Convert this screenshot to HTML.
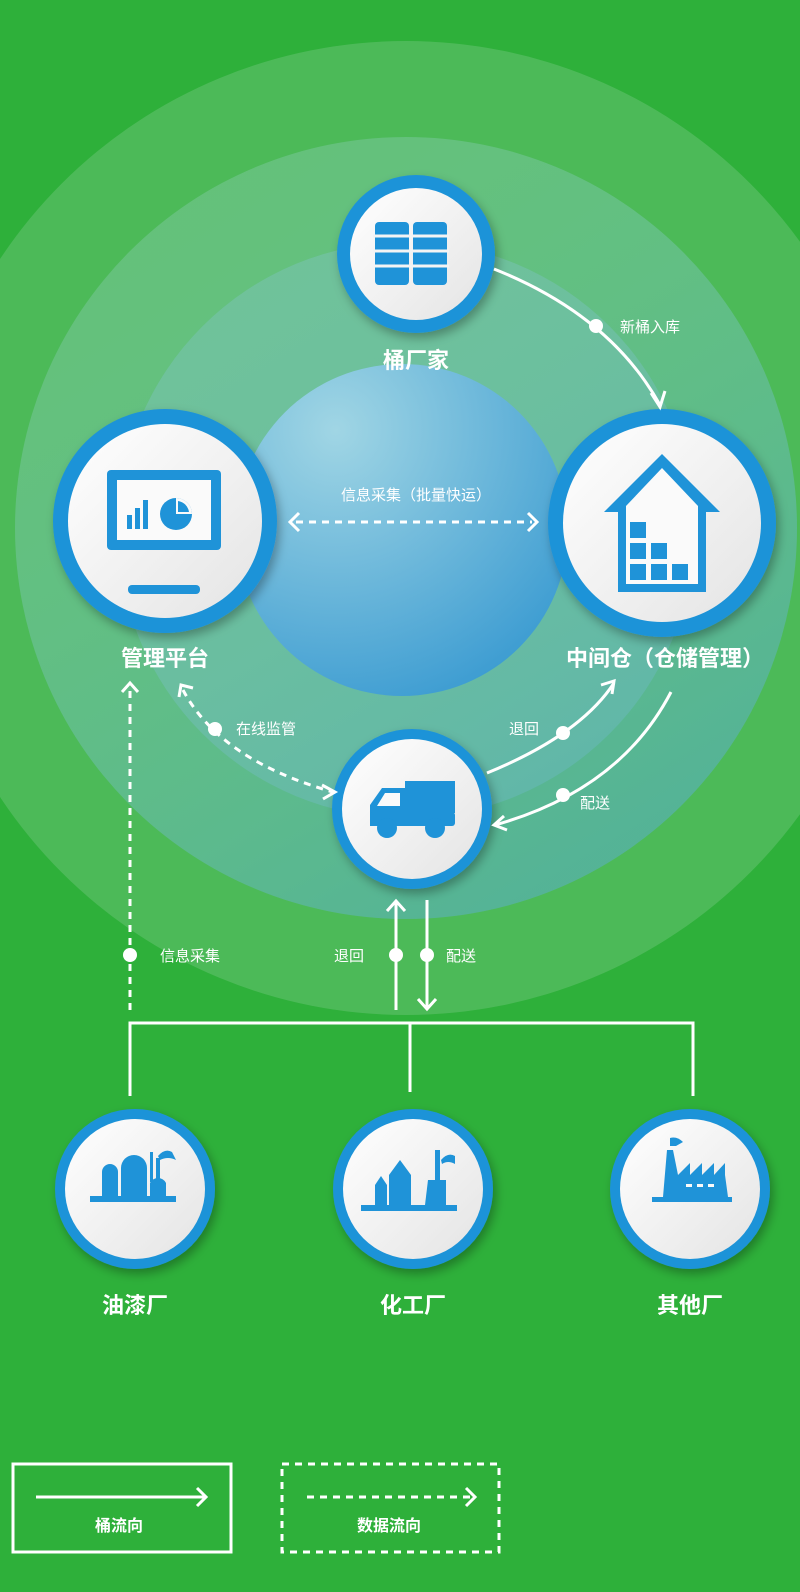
<!DOCTYPE html>
<html><head><meta charset="utf-8"><style>
html,body{margin:0;padding:0;background:#2eb03a;}
svg{display:block}
text{font-family:"Liberation Sans","Noto Sans CJK SC",sans-serif;fill:#fff;}
.lb{font-size:22px;font-weight:bold;text-anchor:middle;}
.sm{font-size:15px;}
.ln{stroke:#fff;stroke-width:3;fill:none;}
.ds{stroke:#fff;stroke-width:3;fill:none;stroke-dasharray:7 6;}
.ic{fill:#1f93d8;}
</style></head><body>
<svg width="800" height="1592" viewBox="0 0 800 1592" xmlns="http://www.w3.org/2000/svg">
<defs>
<radialGradient id="inner" cx="0.3" cy="0.2" r="0.9">
<stop offset="0" stop-color="#a6d8ec"/><stop offset="1" stop-color="#3597d6"/></radialGradient>
<linearGradient id="tint" x1="0" y1="0" x2="0.6" y2="1">
<stop offset="0" stop-color="#7ccfb0" stop-opacity="0"/><stop offset="1" stop-color="#3a9ad0" stop-opacity="0.35"/></linearGradient>
<linearGradient id="wf" x1="0" y1="0" x2="1" y2="1">
<stop offset="0" stop-color="#ffffff"/><stop offset="1" stop-color="#e4e4e4"/></linearGradient>
<filter id="sh" x="-20%" y="-20%" width="140%" height="140%"><feDropShadow dx="3" dy="5" stdDeviation="5" flood-color="#000" flood-opacity="0.3"/></filter>
</defs>
<rect width="800" height="1592" fill="#2eb03a"/>
<circle cx="406" cy="528" r="487" fill="#c8e8d0" fill-opacity="0.2"/>
<circle cx="406" cy="528" r="391" fill="#a8d8d4" fill-opacity="0.25"/>
<circle cx="406" cy="530" r="288" fill="#90c8e0" fill-opacity="0.3"/>
<circle cx="406" cy="528" r="391" fill="url(#tint)"/>
<circle cx="402" cy="530" r="166" fill="url(#inner)" fill-opacity="0.9"/>

<g filter="url(#sh)">
<circle cx="416" cy="254" r="79" fill="#1f93d8"/>
<circle cx="165" cy="521" r="112" fill="#1f93d8"/>
<circle cx="662" cy="523" r="114" fill="#1f93d8"/>
<circle cx="412" cy="809" r="80" fill="#1f93d8"/>
<circle cx="135" cy="1189" r="80" fill="#1f93d8"/>
<circle cx="413" cy="1189" r="80" fill="#1f93d8"/>
<circle cx="690" cy="1189" r="80" fill="#1f93d8"/>
</g>
<circle cx="416" cy="254" r="66" fill="url(#wf)"/>
<circle cx="165" cy="521" r="97" fill="url(#wf)"/>
<circle cx="662" cy="523" r="99" fill="url(#wf)"/>
<circle cx="412" cy="809" r="70" fill="url(#wf)"/>
<circle cx="135" cy="1189" r="70" fill="url(#wf)"/>
<circle cx="413" cy="1189" r="70" fill="url(#wf)"/>
<circle cx="690" cy="1189" r="70" fill="url(#wf)"/>

<g class="ic">
<rect x="375" y="222" width="34" height="63" rx="4"/>
<rect x="413" y="222" width="34" height="63" rx="4"/>
</g>
<g stroke="#f4f4f4" stroke-width="3">
<line x1="373" y1="236" x2="449" y2="236"/><line x1="373" y1="251" x2="449" y2="251"/><line x1="373" y1="266" x2="449" y2="266"/>
</g>
<rect x="107" y="470" width="114" height="80" rx="4" class="ic"/>
<rect x="117" y="480" width="94" height="60" fill="#fafafa"/>
<rect x="128" y="585" width="72" height="9" rx="4" class="ic"/>
<g class="ic"><rect x="127" y="515" width="5" height="14"/><rect x="135" y="508" width="5" height="21"/><rect x="143" y="500" width="5" height="29"/>
<circle cx="176" cy="514" r="16"/></g>
<path d="M176 514 L176 498 A16 16 0 0 1 192 514 Z" fill="#fafafa"/>
<path d="M178 512 L178 501 A13 13 0 0 1 189 512 Z" class="ic"/>
<path d="M662 454 L720 512 L706 512 L706 592 L618 592 L618 512 L604 512 Z" class="ic"/>
<path d="M662 468 L698 506 L698 584 L626 584 L626 506 Z" fill="#fafafa"/>
<g class="ic"><rect x="630" y="522" width="16" height="16"/><rect x="630" y="543" width="16" height="16"/><rect x="651" y="543" width="16" height="16"/><rect x="630" y="564" width="16" height="16"/><rect x="651" y="564" width="16" height="16"/><rect x="672" y="564" width="16" height="16"/></g>
<g class="ic">
<rect x="405" y="781" width="50" height="32"/>
<path d="M370 805 L382 788 L405 788 L405 826 L370 826 Z"/>
<rect x="370" y="812" width="85" height="14" rx="3"/>
<circle cx="387" cy="828" r="10"/><circle cx="435" cy="828" r="10"/>
</g>
<path d="M377 806 L385 793 L400 793 L400 806 Z" fill="#fafafa"/>
<g class="ic">
<rect x="90" y="1196" width="86" height="6"/>
<path d="M102 1196 L102 1172 A8 8 0 0 1 118 1172 L118 1196 Z"/>
<path d="M121 1196 L121 1168 A13 13 0 0 1 147 1168 L147 1196 Z"/>
<path d="M150 1196 L150 1183 A9 9 0 0 1 166 1183 L166 1196 Z"/>
<rect x="150" y="1152" width="3" height="30"/><rect x="156" y="1158" width="4" height="24"/>
<path d="M158 1156 Q165 1148 172 1152 L176 1160 Q168 1156 160 1160Z"/>
</g>
<g class="ic">
<rect x="361" y="1205" width="96" height="6"/>
<path d="M375 1205 L375 1185 L381 1176 L387 1185 L387 1205 Z"/>
<path d="M389 1205 L389 1175 L400 1160 L411 1175 L411 1205 Z"/>
<rect x="435" y="1150" width="5" height="35"/>
<path d="M428 1180 L446 1180 L446 1205 L425 1205 Z"/>
<path d="M441 1160 Q448 1152 455 1156 L455 1164 Q448 1160 442 1164Z"/>
</g>
<g class="ic">
<rect x="652" y="1197" width="80" height="5"/>
<path d="M663 1197 L667 1150 L673 1150 L678 1175 L725 1175 L728 1197 Z"/>
<path d="M678 1175 L690 1163 L690 1175 L702 1163 L702 1175 L714 1163 L714 1175 L725 1163 L725 1175 Z"/>
<path d="M670 1146 L670 1138 Q677 1136 683 1142 L676 1146 Z"/>
</g>
<g fill="#fafafa"><rect x="686" y="1184" width="6" height="3"/><rect x="697" y="1184" width="6" height="3"/><rect x="708" y="1184" width="6" height="3"/></g>

<text class="lb" x="416" y="368">桶厂家</text>
<text class="lb" x="165" y="666">管理平台</text>
<text class="lb" x="665" y="666">中间仓（仓储管理）</text>
<text class="lb" x="135" y="1313">油漆厂</text>
<text class="lb" x="413" y="1313">化工厂</text>
<text class="lb" x="690" y="1313">其他厂</text>

<path class="ln" d="M494 269 Q610 315 660 405"/>
<path class="ln" d="M651 393 L660 407 L665 391"/>
<circle cx="596" cy="326" r="7" fill="#fff"/>
<text class="sm" x="620" y="332">新桶入库</text>

<line class="ds" x1="296" y1="522" x2="532" y2="522"/>
<path class="ln" d="M299 513 L290 522 L299 531 M528 513 L537 522 L528 531"/>
<text class="sm" x="416" y="500" text-anchor="middle">信息采集（批量快运）</text>

<path class="ds" d="M183 690 Q220 760 333 792"/>
<path class="ln" d="M179 697 L181 685 L193 688 M322 785 L335 792 L323 799"/>
<circle cx="215" cy="729" r="7" fill="#fff"/>
<text class="sm" x="236" y="734">在线监管</text>

<path class="ln" d="M487 773 Q580 735 614 683"/>
<path class="ln" d="M601 685 L614 681 L612 694"/>
<circle cx="563" cy="733" r="7" fill="#fff"/>
<text class="sm" x="509" y="734">退回</text>

<path class="ln" d="M671 692 Q620 790 495 825"/>
<path class="ln" d="M504 816 L494 825 L507 830"/>
<circle cx="563" cy="795" r="7" fill="#fff"/>
<text class="sm" x="580" y="808">配送</text>

<line class="ln" x1="396" y1="902" x2="396" y2="1010"/>
<path class="ln" d="M387 911 L396 901 L405 911"/>
<line class="ln" x1="427" y1="900" x2="427" y2="1008"/>
<path class="ln" d="M418 999 L427 1009 L436 999"/>
<circle cx="396" cy="955" r="7" fill="#fff"/>
<circle cx="427" cy="955" r="7" fill="#fff"/>
<text class="sm" x="334" y="961">退回</text>
<text class="sm" x="446" y="961">配送</text>

<line class="ds" x1="130" y1="1010" x2="130" y2="688"/>
<path class="ln" d="M122 692 L130 683 L138 692"/>
<circle cx="130" cy="955" r="7" fill="#fff"/>
<text class="sm" x="160" y="961">信息采集</text>

<path class="ln" d="M130 1096 L130 1023 L693 1023 L693 1096 M410 1023 L410 1092"/>

<rect x="13" y="1464" width="218" height="88" class="ln"/>
<line class="ln" x1="36" y1="1497" x2="205" y2="1497"/>
<path class="ln" d="M197 1488 L206 1497 L197 1506"/>
<text x="119" y="1531" text-anchor="middle" font-size="16" font-weight="bold">桶流向</text>
<rect x="282" y="1464" width="217" height="88" class="ds" stroke-dasharray="6 5"/>
<line class="ds" x1="307" y1="1497" x2="472" y2="1497" stroke-dasharray="6 5"/>
<path class="ln" d="M466 1488 L475 1497 L466 1506"/>
<text x="389" y="1531" text-anchor="middle" font-size="16" font-weight="bold">数据流向</text>
</svg>
</body></html>
